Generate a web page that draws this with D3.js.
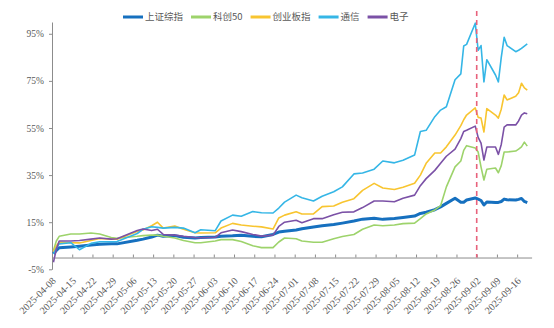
<!DOCTYPE html>
<html>
<head>
<meta charset="utf-8">
<script src="https://cdn.jsdelivr.net/npm/d3@7"></script>
<style>
body { margin: 0; background: #fff; }
</style>
</head>
<body>
<svg width="554" height="328"></svg>
<script>
//sample dates (trading days)
const dates = [
    "2025-04-08", "2025-04-09", "2025-04-10", "2025-04-14", "2025-04-17", "2025-04-21",
    "2025-04-24", "2025-04-28", "2025-04-30", "2025-05-07", "2025-05-09", "2025-05-12",
    "2025-05-14", "2025-05-16", "2025-05-20", "2025-05-23", "2025-05-27", "2025-05-29",
    "2025-06-03", "2025-06-05", "2025-06-09", "2025-06-12", "2025-06-16", "2025-06-19",
    "2025-06-23", "2025-06-25", "2025-06-27", "2025-07-01", "2025-07-03", "2025-07-07",
    "2025-07-10", "2025-07-14", "2025-07-17", "2025-07-21", "2025-07-24", "2025-07-28",
    "2025-07-31", "2025-08-04", "2025-08-07", "2025-08-11", "2025-08-13", "2025-08-15",
    "2025-08-18", "2025-08-20", "2025-08-22", "2025-08-25", "2025-08-27", "2025-08-28",
    "2025-08-29", "2025-09-01", "2025-09-02", "2025-09-03", "2025-09-04", "2025-09-05",
    "2025-09-08", "2025-09-09", "2025-09-10", "2025-09-11", "2025-09-12", "2025-09-15",
    "2025-09-16", "2025-09-17", "2025-09-18", "2025-09-19"
];

//cumulative change, %
const shComposite = [
    1.6, 3.0, 4.2, 4.5, 4.8, 5.3, 5.6, 5.9, 5.8, 7.3, 7.8, 8.7,
    9.5, 9.0, 9.3, 8.6, 8.3, 8.5, 8.7, 9.0, 9.2, 9.5, 9.0, 8.8,
    9.8, 10.8, 11.2, 11.7, 12.2, 13.0, 13.5, 14.0, 14.6, 15.5, 16.3, 16.7,
    16.2, 16.6, 17.0, 17.6, 18.7, 19.2, 20.3, 21.5, 23.0, 25.2, 23.5, 23.5,
    24.4, 25.3, 24.8, 24.2, 22.3, 23.6, 23.4, 23.4, 23.8, 24.8, 24.5, 24.4,
    24.7, 25.1, 23.8, 23.3
];
const star50 = [
    3.0, 7.0, 9.0, 10.0, 10.0, 10.4, 10.0, 8.5, 8.2, 9.0, 9.3, 9.5,
    9.5, 9.0, 8.3, 7.2, 6.3, 6.3, 7.0, 7.6, 7.6, 6.8, 5.0, 4.2,
    4.2, 6.6, 8.3, 8.0, 7.0, 6.5, 6.5, 8.0, 8.9, 9.8, 12.0, 13.8,
    13.5, 13.8, 14.4, 14.6, 16.5, 18.5, 20.2, 22.0, 30.0, 38.5, 41.0, 45.5,
    47.5, 46.5, 44.8, 38.4, 32.9, 37.5, 38.0, 36.0, 39.0, 44.8, 44.8, 45.2,
    46.0, 47.0, 49.0, 47.3
];
const chinext = [
    2.5, 5.0, 6.5, 6.3, 6.2, 7.2, 8.1, 7.8, 7.8, 11.0, 11.7, 13.5,
    15.0, 12.5, 13.4, 12.0, 10.5, 10.4, 10.5, 12.5, 14.5, 13.8, 13.3, 13.0,
    12.1, 16.8, 18.0, 19.4, 18.5, 18.5, 21.6, 21.9, 23.5, 25.0, 28.5, 31.5,
    29.5, 28.9, 29.8, 31.5, 35.0, 40.0, 44.4, 44.4, 47.0, 52.0, 56.0, 58.5,
    60.5, 63.5, 59.5, 59.2, 53.3, 63.2, 60.5, 59.2, 63.0, 69.0, 66.9, 68.5,
    70.0, 74.0, 72.0, 71.1
];
const telecom = [
    1.5, 4.0, 5.8, 6.3, 3.3, 6.0, 6.7, 6.7, 6.8, 10.2, 12.0, 13.1,
    12.8, 12.5, 12.8, 12.5, 10.5, 11.8, 11.4, 15.5, 18.0, 17.5, 19.5, 19.0,
    18.9, 21.0, 23.5, 26.5, 25.4, 24.0, 26.0, 27.9, 30.0, 35.5, 35.9, 37.5,
    41.0, 40.2, 41.3, 43.5, 53.5, 54.0, 59.8, 62.6, 64.0, 75.5, 78.0, 89.8,
    90.5, 99.5, 88.0, 90.0, 74.6, 84.0, 77.5, 74.6, 85.0, 93.5, 90.0, 87.4,
    88.0, 88.8, 89.8, 90.7
];
const electronics = [
    -2.0, 3.5, 7.0, 7.0, 7.2, 7.8, 8.3, 7.8, 8.0, 11.5, 12.1, 11.5,
    12.0, 9.8, 9.5, 9.0, 8.5, 8.4, 8.6, 10.5, 11.7, 11.0, 9.8, 9.1,
    9.5, 13.2, 15.0, 15.8, 14.8, 16.5, 16.5, 18.2, 19.2, 19.4, 21.2, 24.0,
    24.0, 23.7, 25.2, 26.5, 30.5, 33.5, 37.0, 40.0, 43.0, 46.0, 50.5, 53.5,
    54.0, 55.8, 51.0, 48.6, 41.4, 46.9, 46.9, 43.8, 48.0, 55.4, 56.3, 56.3,
    58.0, 60.5, 61.4, 61.0
];

const names  = ["上证综指", "科创50", "创业板指", "通信", "电子"];
const series = [shComposite, star50, chinext, telecom, electronics];
const colors = ["#1670bf", "#9dd36b", "#f8c530", "#35b6e6", "#7b51a6"];
const widths = [3, 1.6, 1.6, 1.6, 1.6];

//axis ticks
const yTicks = [-5, 15, 35, 55, 75, 95];
const tickDates = [
    "2025-04-08", "2025-04-15", "2025-04-22", "2025-04-29", "2025-05-06", "2025-05-13",
    "2025-05-20", "2025-05-27", "2025-06-03", "2025-06-10", "2025-06-17", "2025-06-24",
    "2025-07-01", "2025-07-08", "2025-07-15", "2025-07-22", "2025-07-29", "2025-08-05",
    "2025-08-12", "2025-08-19", "2025-08-26", "2025-09-02", "2025-09-09", "2025-09-16"
];
const eventDate = "2025-09-02";

const parse = d3.timeParse("%Y-%m-%d");
const svg = d3.select("svg");

//scales
const x = d3.scaleTime()
    .domain([parse("2025-04-08"), parse("2025-09-21")])
    .range([52, 531.6]);
const y = d3.scaleLinear()
    .domain([-5, 100])
    .range([269.3, 22]);

//points sit in the middle of their day
const xd = s => x(d3.timeHour.offset(parse(s), 12));

//y axis
const gy = svg.append("g")
    .attr("transform", "translate(52,0)")
    .call(d3.axisLeft(y).tickValues(yTicks).tickSizeInner(3).tickSizeOuter(0)
        .tickFormat(d => d + "%"));
gy.select(".domain").attr("stroke", "#8c8c8c");
gy.selectAll(".tick line").attr("stroke", "#8c8c8c");
gy.selectAll(".tick text")
    .attr("x", -8)
    .attr("fill", "#595959")
    .style("font-family", "'Liberation Serif', 'Times New Roman', serif")
    .style("font-size", "9.5px");

//x axis, crossing at 0
const gx = svg.append("g")
    .attr("transform", `translate(0,${y(0)})`)
    .call(d3.axisBottom(x).tickValues(tickDates.map(parse)).tickSizeInner(-3).tickSizeOuter(0)
        .tickFormat(""));
gx.select(".domain").attr("stroke", "#8c8c8c");
gx.selectAll(".tick line").attr("stroke", "#8c8c8c");

//x labels, rotated, below the plot
svg.append("g").selectAll("text")
    .data(tickDates)
    .enter()
    .append("text")
    .attr("transform", d => `translate(${x(parse(d)) + 2},279) rotate(-45)`)
    .attr("text-anchor", "end")
    .attr("dy", "0.35em")
    .attr("fill", "#595959")
    .style("font-family", "'Liberation Serif', 'Times New Roman', serif")
    .style("font-size", "10px")
    .text(d => d);

//lines
const line = d3.line()
    .x((d, i) => xd(dates[i]))
    .y(d => y(d));

series.forEach((s, k) => {
    svg.append("path")
        .datum(s)
        .attr("fill", "none")
        .attr("stroke", colors[k])
        .attr("stroke-width", widths[k])
        .attr("stroke-linejoin", "round")
        .attr("d", line);
});

//event marker
svg.append("line")
    .attr("x1", x(parse(eventDate)))
    .attr("x2", x(parse(eventDate)))
    .attr("y1", 11)
    .attr("y2", y(0))
    .attr("stroke", "#e8627c")
    .attr("stroke-width", 1.6)
    .attr("stroke-dasharray", "5,4");

//legend
const legend = svg.append("g").attr("transform", "translate(123,17)");
let lx = 0;
names.forEach((n, k) => {
    legend.append("line")
        .attr("x1", lx).attr("x2", lx + 20)
        .attr("y1", 0).attr("y2", 0)
        .attr("stroke", colors[k])
        .attr("stroke-width", 3);
    const t = legend.append("text")
        .attr("x", lx + 22)
        .attr("y", 0)
        .attr("dy", "0.35em")
        .attr("fill", "#595959")
        .style("font-family", "'Noto Sans CJK SC', sans-serif")
        .style("font-size", "9.5px")
        .text(n);
    lx += 22 + t.node().getComputedTextLength() + 8;
});
</script>
</body>
</html>
